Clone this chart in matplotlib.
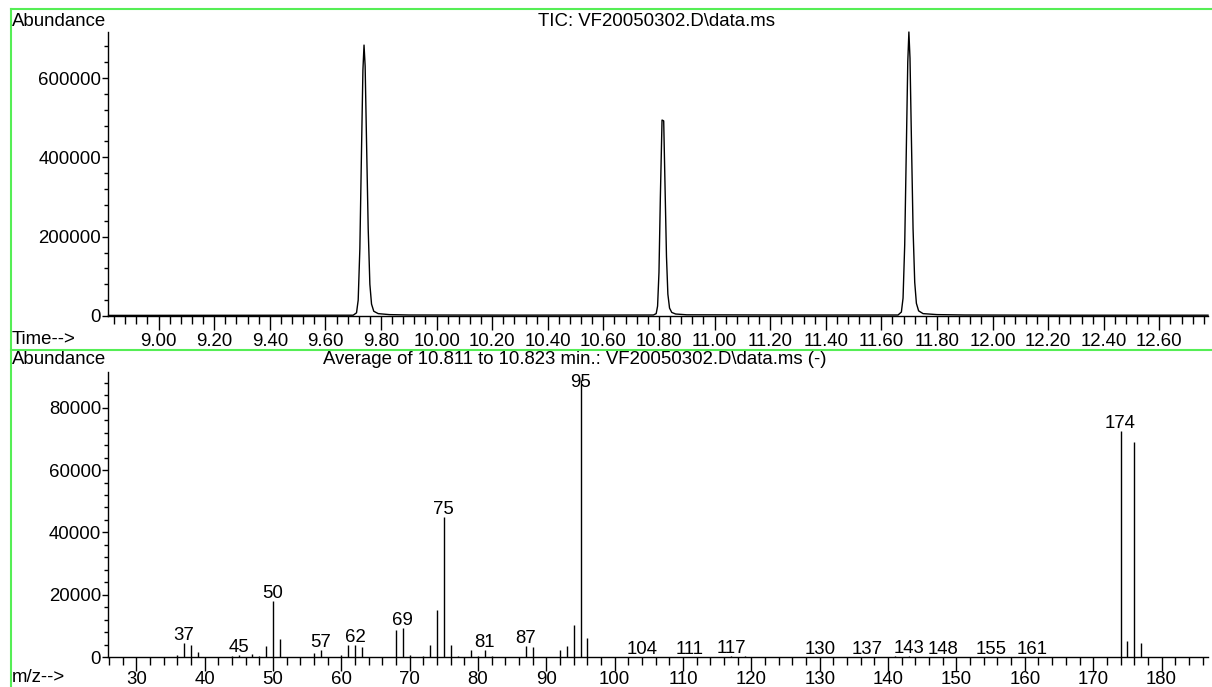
import matplotlib
matplotlib.use("Agg")
import matplotlib.pyplot as plt
from matplotlib.ticker import MultipleLocator, FixedLocator
from matplotlib.lines import Line2D

plt.rcParams['font.family'] = ['Liberation Sans', 'DejaVu Sans']
FS = 13.4

# TIC trace (retention time in min, abundance)
tic_time = [8.82, 9.30, 9.70, 9.712, 9.718, 9.724, 9.730, 9.735, 9.739, 9.743,
            9.748, 9.754, 9.760, 9.766, 9.774, 9.790, 9.830, 9.900,
            10.30, 10.780, 10.790, 10.795, 10.800, 10.805, 10.811, 10.817, 10.822,
            10.827, 10.832, 10.838, 10.846, 10.860, 10.900,
            11.30, 11.660, 11.672, 11.678, 11.684, 11.690, 11.695, 11.699, 11.703,
            11.708, 11.714, 11.720, 11.726, 11.734, 11.750, 11.800, 11.900,
            12.30, 12.775]
tic_abund = [1500, 1800, 2000, 8000, 40000, 170000, 420000, 620000, 683000, 630000,
             440000, 220000, 80000, 30000, 12000, 6000, 3500, 2500,
             2200, 2500, 6000, 25000, 110000, 300000, 494000, 492000, 320000,
             150000, 55000, 20000, 9000, 5000, 3000,
             2400, 2500, 10000, 45000, 180000, 430000, 640000, 716000, 650000,
             450000, 220000, 85000, 32000, 13000, 6000, 3500, 2500,
             2000, 2000]

# averaged mass spectrum
mz = [36, 37, 38, 39, 44, 45, 47, 48, 49, 50, 51, 56, 57, 60, 61, 62, 63,
      68, 69, 70, 72, 73, 74, 75, 76, 77, 79, 80, 81, 82, 87, 88, 92, 93,
      94, 95, 96, 104, 111, 117, 119, 130, 137, 141, 143, 148, 155, 161,
      174, 175, 176, 177]
ms_abund = [500, 4500, 3900, 1600, 200, 800, 1100, 300, 3600, 18100, 5800, 1400, 2300,
            550, 3900, 4000, 3100, 8700, 9300, 600, 300, 3700, 15100, 45000, 4000,
            300, 2100, 300, 2100, 200, 3500, 3300, 2200, 3500, 10400, 88900, 6100,
            150, 150, 300, 200, 150, 150, 300, 400, 150, 150, 150,
            72600, 5000, 69100, 4400]
labelled_mz = [37, 45, 50, 57, 62, 69, 75, 81, 87, 95, 104, 111, 117, 130,
               137, 143, 148, 155, 161, 174]

time_ticks = [9.0 + 0.2 * i for i in range(19)]
mz_ticks = list(range(30, 190, 10))

W, H = 1212, 687
fig = plt.figure(figsize=(W / 100, H / 100), dpi=100)


def px_axes(left, right, top, bottom):
    return fig.add_axes([left / W, 1 - bottom / H, (right - left) / W, (bottom - top) / H])


def style(ax):
    for s in ('top', 'right'):
        ax.spines[s].set_visible(False)
    for s in ('left', 'bottom'):
        ax.spines[s].set_linewidth(1.0)
    ax.tick_params(axis='x', which='major', direction='out', length=10, width=1,
                   labelsize=FS)
    ax.tick_params(axis='x', which='minor', direction='out', length=6, width=1)
    ax.tick_params(axis='y', which='major', direction='out', length=4, width=1,
                   labelsize=FS, pad=1)
    ax.tick_params(axis='y', which='minor', direction='out', length=3, width=1)


# --- chromatogram ---
ax1 = px_axes(108, 1208, 32, 316)
ax1.plot(tic_time, tic_abund, color='black', lw=1.0, clip_on=False)
ax1.set_xlim(8.818, 12.775)
ax1.set_ylim(0, 716000)
style(ax1)
ax1.xaxis.set_major_locator(FixedLocator(time_ticks))
ax1.set_xticklabels([f"{t:.2f}" for t in time_ticks])
ax1.xaxis.set_minor_locator(MultipleLocator(0.04))
ax1.yaxis.set_major_locator(MultipleLocator(200000))
ax1.yaxis.set_minor_locator(MultipleLocator(40000))
ax1.tick_params(axis='x', which='major', pad=2)

# --- mass spectrum ---
ax2 = px_axes(108, 1208, 372, 657)
ax2.vlines(mz, 0, ms_abund, color='black', lw=1.0)
ax2.set_xlim(25.86, 186.8)
ax2.set_ylim(0, 91500)
style(ax2)
ax2.xaxis.set_major_locator(FixedLocator(mz_ticks))
ax2.xaxis.set_minor_locator(MultipleLocator(2))
ax2.yaxis.set_major_locator(MultipleLocator(20000))
ax2.yaxis.set_minor_locator(MultipleLocator(4000))
ax2.tick_params(axis='x', which='major', pad=0.3)

for m in labelled_mz:
    h = ms_abund[mz.index(m)]
    ax2.annotate(str(m), xy=(m, min(h, 85800)), xytext=(0, 3), textcoords='offset pixels',
                 ha='center', va='baseline', fontsize=FS, annotation_clip=False)

# --- headers ---
fig.text(12 / W, 1 - 21 / H, "Abundance", fontsize=FS, va='center', ha='left')
fig.text(657 / W, 1 - 21 / H, r"TIC: VF20050302.D\data.ms", fontsize=FS,
         va='center', ha='center')
fig.text(12 / W, 1 - 340 / H, "Time-->", fontsize=FS, va='center', ha='left')
fig.text(12 / W, 1 - 359 / H, "Abundance", fontsize=FS, va='center', ha='left')
fig.text(575 / W, 1 - 359 / H,
         r"Average of 10.811 to 10.823 min.: VF20050302.D\data.ms (-)",
         fontsize=FS, va='center', ha='center')
fig.text(12 / W, 1 - 677 / H, "m/z-->", fontsize=FS, va='center', ha='left')

# green frame lines
green = '#55ee55'
for xs, ys in [((11, W), (9, 9)), ((11, 11), (9, H)), ((11, W), (350, 350))]:
    fig.add_artist(Line2D([x / W for x in xs], [1 - y / H for y in ys],
                          transform=fig.transFigure, color=green, lw=1.5))

fig.savefig("out.png", dpi=100)
